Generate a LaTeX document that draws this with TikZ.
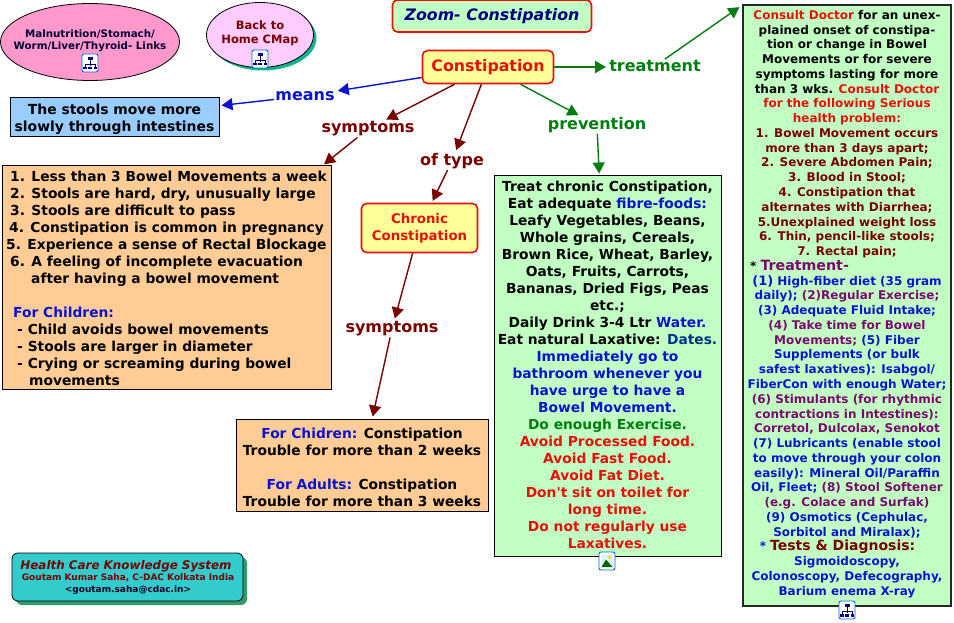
\documentclass[tikz,border=0pt]{standalone}
\usepackage{fontspec}
\newfontfamily\cmfont{DejaVu Sans}
\usetikzlibrary{arrows.meta,shapes.geometric,shadows}
\definecolor{cmred}{HTML}{E8100C}
\definecolor{cmdark}{HTML}{7A0000}
\definecolor{cmgreen}{HTML}{007F10}
\definecolor{cmblue}{HTML}{0A14D0}
\definecolor{cmpurple}{HTML}{7A0A70}
\definecolor{cmmint}{HTML}{C2FFC2}
\definecolor{cmyellow}{HTML}{FFFF99}
\definecolor{cmorange}{HTML}{FFCC96}
\definecolor{cmpink}{HTML}{FF99CC}
\definecolor{cmlilac}{HTML}{FFCCFF}
\definecolor{cmsky}{HTML}{99CCFF}
\definecolor{cmteal}{HTML}{33CCCC}
\definecolor{cmsea}{HTML}{339966}
\definecolor{cmjade}{HTML}{12B48C}
\newcommand{\fsz}[2]{\fontsize{#1}{#2}\selectfont\cmfont\bfseries}
\newcommand{\cred}[1]{\textcolor{cmred}{#1}}
\newcommand{\cdark}[1]{\textcolor{cmdark}{#1}}
\newcommand{\cblue}[1]{\textcolor{cmblue}{#1}}
\newcommand{\cgreen}[1]{\textcolor{cmgreen}{#1}}
\newcommand{\cpurp}[1]{\textcolor{cmpurple}{#1}}
\newcommand{\lifttext}[1]{\rule{0pt}{#1}}
\tikzset{
	linkword/.style={inner sep=1pt,font=\fsz{16}{18}},
	redbox/.style={draw=cmred,line width=1.6pt,rounded corners=5pt,inner sep=0pt},
	infobox/.style={draw=black,line width=1pt,inner sep=0pt,align=center,font=\fsz{13.8}{17}},
	cmlink/.style={line width=1.4pt,-{Triangle[length=11pt,width=12pt]},shorten >=2pt},
	cmapicon/.pic={
		\draw[draw=blue!60!cyan,fill=white,line width=0.9pt,rounded corners=2pt] (-8,-9) rectangle (8,9);
		\draw[black!70!blue,line width=0.6pt] (0,-3)--(0,3) (-5,1)--(5,1) (-5,1)--(-5,4) (5,1)--(5,4);
		\fill[blue!50!black] (-2.5,-6) rectangle (2.5,-3);
		\fill[blue!50!black] (-7,4) rectangle (-3.5,6.5);
		\fill[blue!50!black] (-1.8,4) rectangle (1.8,6.5);
		\fill[blue!50!black] (3.5,4) rectangle (7,6.5);
	},
	photoicon/.pic={
		\draw[draw=blue!60!cyan,fill=white,line width=0.9pt,rounded corners=2pt] (-8,-9) rectangle (8,9);
		\fill[cyan!15] (-5.5,-6.5) rectangle (5.5,6);
		\fill[yellow!80!orange] (2.5,-3.5) circle (1.8);
		\fill[green!40!black] (-5.5,6)--(-1,-1.5)--(5.5,6)--cycle;
	},
}
\begin{document}
\begin{tikzpicture}[x=1pt,y=-1pt,>=stealth]
	\useasboundingbox (0,0) rectangle (954,623);
	% top links
	\node[draw=black,line width=0.8pt,fill=cmpink,ellipse,minimum width=179pt,minimum height=77pt,inner sep=0pt] (maplinks) at (90,42) {};
	\node[align=center,font=\fsz{10.3}{12},text=black!80!blue,inner sep=0pt] (maplinkstext) at (90,40.5) {Malnutrition/Stomach/\\Worm/Liver/Thyroid- Links};
	\pic at (90,63) {cmapicon};
	\node[draw=black,line width=0.8pt,fill=cmlilac,ellipse,minimum width=107pt,minimum height=65pt,inner sep=0pt,
		drop shadow={shadow xshift=3pt,shadow yshift=-3pt,opacity=1,fill=cmjade}] (homemap) at (260,35) {};
	\node[align=center,font=\fsz{11.5}{14},text=cmdark,inner sep=0pt] (homemaptext) at (260,33) {Back to\\Home CMap};
	\pic at (260,59) {cmapicon};
	% title and main concept
	\node[redbox,fill=cmmint,minimum width=199pt,minimum height=32pt,text=blue!50!black,font=\fontsize{15.8}{18}\selectfont\cmfont\bfseries\itshape] (zoomtitle) at (492,16) {Zoom- Constipation};
	\node[redbox,fill=cmyellow,minimum width=131pt,minimum height=33pt,text=cmred,font=\fsz{15.8}{18}] (cons) at (488,67) {\lifttext{13pt}Constipation};
	\node[redbox,fill=cmyellow,minimum width=116pt,minimum height=49pt,text=cmred,align=center,font=\fsz{13.3}{17}] (chronic) at (419.5,228) {Chronic\\Constipation};
	% linking words
	\node[linkword,text=cmblue] (means) at (305,96) {means};
	\node[linkword,text=cmdark] (symptomsa) at (368,129) {symptoms};
	\node[linkword,text=cmdark] (oftype) at (452,161) {of type};
	\node[linkword,text=cmdark] (symptomsb) at (392,329) {symptoms};
	\node[linkword,text=cmgreen] (prevention) at (597,125) {prevention};
	\node[linkword,text=cmgreen] (treatment) at (655,66) {treatment};
	% boxes
	\node[infobox,fill=cmsky,minimum width=209pt,minimum height=39pt,font=\fsz{13.9}{17}] (slowbox) at (114.5,117.5) {\lifttext{14pt}The stools move more\\slowly through intestines};
	\node[infobox,fill=cmorange,minimum width=329pt,minimum height=223pt,align=left] (signsbox) at (166.5,277.5) {%
		\lifttext{12pt}\hspace*{4pt}1. Less than 3 Bowel Movements a week\\
		\hspace*{4pt}2. Stools are hard, dry, unusually large\\
		\hspace*{4pt}3. Stools are difficult to pass\\
		\hspace*{3pt}4. Constipation is common in pregnancy\\
		5. Experience a sense of Rectal Blockage\\
		\hspace*{4pt}6. A feeling of incomplete evacuation\\
		\hspace*{25pt}after having a bowel movement\\[17pt]
		\hspace*{7pt}\cblue{For Children:}\\
		\hspace*{11pt}- Child avoids bowel movements\\
		\hspace*{11pt}- Stools are larger in diameter\\
		\hspace*{11pt}- Crying or screaming during bowel\\
		\hspace*{23pt}movements};
	\node[infobox,fill=cmorange,minimum width=252pt,minimum height=92pt] (durationbox) at (362,465) {%
		\lifttext{16pt}\cblue{For Chidren:} Constipation\\
		Trouble for more than 2 weeks\\[17pt]
		\cblue{For Adults:} Constipation\\
		Trouble for more than 3 weeks};
	\node[infobox,fill=cmmint,minimum width=227pt,minimum height=380pt] (preventbox) at (607.5,366) {%
		Treat chronic Constipation,\\
		Eat adequate \cblue{fibre-foods:}\\
		Leafy Vegetables, Beans,\\
		Whole grains, Cereals,\\
		Brown Rice, Wheat, Barley,\\
		Oats, Fruits, Carrots,\\
		Bananas, Dried Figs, Peas\\
		etc.;\\
		Daily Drink 3-4 Ltr \cblue{Water.}\\
		Eat natural Laxative: \textcolor{blue!40!black!80!cyan}{Dates.}\\
		\cblue{Immediately go to}\\
		\cblue{bathroom whenever you}\\
		\cblue{have urge to have a}\\
		\cblue{Bowel Movement.}\\
		\cgreen{Do enough Exercise.}\\
		\cred{Avoid Processed Food.}\\
		\cred{Avoid Fast Food.}\\
		\cred{Avoid Fat Diet.}\\
		\cred{Don't sit on toilet for}\\
		\cred{long time.}\\
		\cred{Do not regularly use}\\
		\cred{Laxatives.}\rule[-2pt]{0pt}{2pt}};
	\pic at (607,561) {photoicon};
	\node[draw=black!85,fill=cmmint,line width=2pt,minimum width=208pt,minimum height=601pt,inner sep=0pt] (doctorbox) at (847,305.5) {};
	\node[inner sep=0pt,align=center,font=\fsz{12}{14.77}] (doctortext) at (847,304) {%
		\cred{Consult Doctor} for an unex-\\
		plained onset of constipa-\\
		tion or change in Bowel\\
		Movements or for severe\\
		symptoms lasting for more\\
		than 3 wks. \cred{Consult Doctor}\\
		\cred{for the following Serious}\\
		\cred{health problem:}\\
		\cdark{1. Bowel Movement occurs}\\
		\cdark{more than 3 days apart;}\\
		\cdark{2. Severe Abdomen Pain;}\\
		\cdark{3. Blood in Stool;}\\
		\cdark{4. Constipation that}\\
		\cdark{alternates with Diarrhea;}\\
		\cdark{5.Unexplained weight loss}\\
		\cdark{6. Thin, pencil-like stools;}\\
		\cdark{7. Rectal pain;}\\
		\hspace*{-95pt}* \cpurp{\fontsize{14.2}{14.77}\selectfont Treatment-}\\
		\cblue{\fontsize{13}{14.77}\selectfont(1)} \cblue{High-fiber diet (35 gram}\\
		\cblue{daily);} \cpurp{(2)Regular Exercise;}\\
		\cblue{(3) Adequate Fluid Intake;}\\
		\cpurp{(4) Take time for Bowel}\\
		\cpurp{Movements;} \cblue{(5) Fiber}\\
		\cblue{Supplements (or bulk}\\
		\cblue{safest laxatives): Isabgol/}\\
		\cblue{FiberCon with enough Water;}\\
		\cpurp{(6) Stimulants (for rhythmic}\\
		\cpurp{contractions in Intestines):}\\
		\cpurp{Corretol, Dulcolax, Senokot}\\
		\cblue{(7) Lubricants (enable stool}\\
		\cblue{to move through your colon}\\
		\cblue{easily): Mineral Oil/Paraffin}\\
		\cblue{Oil, Fleet;} \cpurp{(8) Stool Softener}\\
		\cpurp{(e.g. Colace and Surfak)}\\
		\cblue{(9) Osmotics (Cephulac,}\\
		\cblue{Sorbitol and Miralax);}\\
		\hspace*{-19pt}\cblue{*} \cdark{\fontsize{14}{14.77}\selectfont Tests \& Diagnosis:}\\
		\cblue{Sigmoidoscopy,}\\
		\cblue{Colonoscopy, Defecography,}\\
		\cblue{Barium enema X-ray}};
	\pic at (847,610) {cmapicon};
	% footer
	\node[draw=black,line width=0.8pt,fill=cmteal,rounded corners=6pt,minimum width=231pt,minimum height=48pt,inner sep=0pt,
		drop shadow={shadow xshift=4pt,shadow yshift=-4pt,opacity=1,fill=cmsea}] (hcks) at (127.5,577) {};
	\node[font=\fontsize{11.9}{14}\selectfont\cmfont\bfseries\itshape,text=cmdark,inner sep=0pt] (hckstitle) at (126,566.5) {Health Care Knowledge System};
	\node[align=center,font=\fsz{9}{11.5},text=cmdark,inner sep=0pt] (hcksname) at (128,584) {Goutam Kumar Saha, C-DAC Kolkata India\\\textcolor{black!85!blue}{<goutam.saha@cdac.in>}};
	% connectors
	\draw[cmlink,cmblue] (cons)--(means);
	\draw[cmlink,cmblue] (means)--(slowbox);
	\draw[cmlink,cmdark] (cons)--(symptomsa);
	\draw[cmlink,cmdark] (symptomsa)--([xshift=-9pt]signsbox.north east);
	\draw[cmlink,cmdark] (cons)--(oftype);
	\draw[cmlink,cmdark] (oftype)--(chronic);
	\draw[cmlink,cmdark] (chronic)--(symptomsb);
	\draw[cmlink,cmdark] (symptomsb)--(durationbox);
	\draw[cmlink,cmgreen] (cons)--(prevention);
	\draw[cmlink,cmgreen] (prevention)--(preventbox);
	\draw[cmlink,cmgreen] (cons)--(cons-|treatment.west);
	\coordinate (doctorin) at (741,6);
	\draw[cmlink,cmgreen] (treatment)--(doctorin);
\end{tikzpicture}
\end{document}
